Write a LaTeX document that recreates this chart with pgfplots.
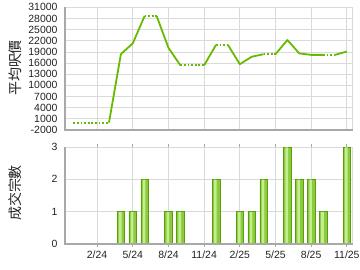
\documentclass[border=0pt]{standalone}
\usepackage{pgfplots}
\pgfplotsset{compat=1.18}
\usepackage{fontspec}
\setmainfont{Liberation Sans}
\newfontfamily\cjk{Noto Sans CJK TC}
\definecolor{lgreen}{HTML}{66BB00}
\definecolor{bedge}{HTML}{5A9E0A}
\definecolor{bside}{HTML}{8CCB3E}
\definecolor{bmid}{HTML}{C4EC90}
\definecolor{gridc}{HTML}{DADADA}
\definecolor{axc}{HTML}{A8A8A8}
\definecolor{txt}{HTML}{222222}
\pgfplotsset{
  base/.style={
    scale only axis, anchor=south west,
    width=287.8bp,
    xmin=-0.7, xmax=23.5,
    xtick={2,5,8,11,14,17,20,23},
    grid=major,
    major grid style={gridc, line width=0.8bp},
    axis line style={gridc, line width=0.8bp},
    ytick style={draw=none},
    scaled ticks=false,
    tick label style={font=\fontsize{10.5}{12}\selectfont, text=txt},
    /pgf/number format/assume math mode=true,
    /pgf/number format/1000 sep={},
    after end axis/.code={\draw[axc, line width=1.6bp] (rel axis cs:0,1) -- (rel axis cs:0,0) -- (rel axis cs:1,0);},
  }
}
\begin{document}
\begin{tikzpicture}
\useasboundingbox (0,0) rectangle (360bp,270bp);
\begin{axis}[base, at={(65bp,140bp)}, height=122.7bp,
  ymin=-2000, ymax=31000, ytick={-2000,1000,...,31000},
  xticklabels={}, xtick style={draw=none},
  yticklabel style={xshift=-4bp}]
\addplot[lgreen, line width=1.8bp, line join=round, unbounded coords=jump] coordinates {
 (3,0) (4,18400) (5,21300) (6,28700) (7,nan)
 (7,28700) (8,20100) (9,15400) (10,nan)
 (11,15400) (12,20900) (12.5,nan)
 (13,20900) (14,15700) (15,17700) (16,18400) (16.5,nan)
 (17,18400) (18,22200) (19,18600) (20,18200) (21,18200) (21.5,nan)
 (22,18200) (23,19100)
};
\addplot[lgreen, line width=2bp, dash pattern=on 1.8bp off 1.8bp, unbounded coords=jump] coordinates {
 (0,0) (1,0) (2,0) (3,0) (3.5,nan)
 (6,28700) (7,28700) (7.5,nan)
 (9,15400) (10,15400) (11,15400) (11.5,nan)
 (12,20900) (13,20900) (13.5,nan)
 (16,18400) (17,18400) (17.5,nan)
 (21,18200) (22,18200)
};
\end{axis}
\begin{axis}[base, at={(65bp,26bp)}, height=97bp,
  ymin=0, ymax=3, ytick={0,1,2,3},
  xticklabels={2/24,5/24,8/24,11/24,2/25,5/25,8/25,11/25},
  xtick align=outside, major tick length=3bp,
  xtick style={axc, line width=0.8bp},
  yticklabel style={xshift=-4bp}]
\addplot[ybar, bar width=7.6bp, bar shift=0pt, draw=bedge, line width=0.6bp, fill=bside] coordinates {
 (4,1) (5,1) (6,2) (8,1) (9,1) (12,2) (14,1) (15,1) (16,2)
 (18,3) (19,2) (20,2) (21,1) (23,3)
};
\addplot[ybar, bar width=2.6bp, bar shift=-0.6bp, draw=none, fill=bmid] coordinates {
 (4,0.99) (5,0.99) (6,1.99) (8,0.99) (9,0.99) (12,1.99) (14,0.99) (15,0.99) (16,1.99)
 (18,2.99) (19,1.99) (20,1.99) (21,0.99) (23,2.99)
};
\end{axis}
\node[rotate=90, text=txt] at (15bp,202bp) {\cjk\fontsize{14}{16}\selectfont 平均呎價};
\node[rotate=90, text=txt] at (15bp,77bp) {\cjk\fontsize{14}{16}\selectfont 成交宗數};
\end{tikzpicture}
\end{document}
